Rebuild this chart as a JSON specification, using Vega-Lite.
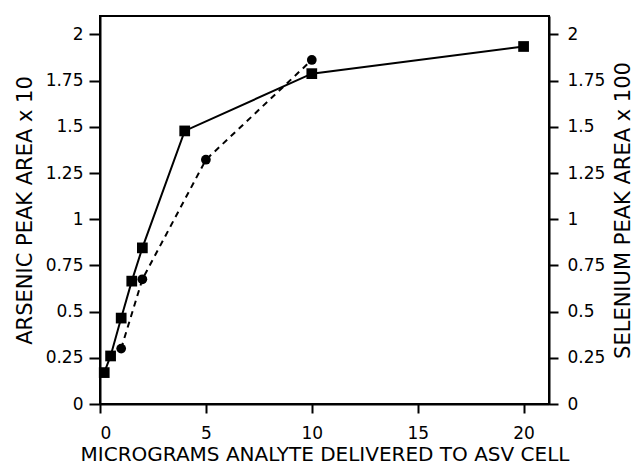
{
  "$schema": "https://vega.github.io/schema/vega-lite/v6.json",
  "width": 449,
  "height": 388,
  "autosize": "none",
  "padding": {"left": 100, "top": 16, "right": 85, "bottom": 64},
  "background": "white",
  "config": {
    "view": {"stroke": "black", "strokeWidth": 2},
    "axis": {
      "labelFont": "DejaVu Sans",
      "titleFont": "DejaVu Sans",
      "labelFontSize": 17,
      "titleFontSize": 21,
      "titleFontWeight": "normal",
      "labelColor": "black",
      "titleColor": "black",
      "domainColor": "black",
      "tickColor": "black",
      "domainWidth": 2,
      "tickWidth": 2,
      "tickSize": 10,
      "grid": false
    }
  },
  "data": {
    "values": [
      {"series": "As", "ug": 0.2, "area": 0.17},
      {"series": "As", "ug": 0.5, "area": 0.26},
      {"series": "As", "ug": 1.0, "area": 0.465},
      {"series": "As", "ug": 1.5, "area": 0.665},
      {"series": "As", "ug": 2.0, "area": 0.845},
      {"series": "As", "ug": 4.0, "area": 1.478},
      {"series": "As", "ug": 10.0, "area": 1.788},
      {"series": "As", "ug": 20.0, "area": 1.935},
      {"series": "Se", "ug": 1.0, "area": 0.30},
      {"series": "Se", "ug": 2.0, "area": 0.675},
      {"series": "Se", "ug": 5.0, "area": 1.322},
      {"series": "Se", "ug": 10.0, "area": 1.862}
    ]
  },
  "layer": [
    {
      "transform": [{"filter": "datum.series === 'As'"}],
      "encoding": {
        "x": {
          "field": "ug", "type": "quantitative",
          "scale": {"domain": [0, 21.2], "nice": false, "zero": false},
          "axis": {"values": [0, 5, 10, 15, 20], "title": "MICROGRAMS ANALYTE DELIVERED TO ASV CELL", "titleFontSize": 20, "titlePadding": 3, "labelPadding": 12, "tickSize": 9}
        },
        "y": {
          "field": "area", "type": "quantitative",
          "scale": {"domain": [0, 2.1], "nice": false},
          "axis": {"orient": "left", "values": [0, 0.25, 0.5, 0.75, 1, 1.25, 1.5, 1.75, 2], "labelExpr": "'' + datum.value", "title": "ARSENIC PEAK AREA x 10", "titlePadding": 10, "labelPadding": 6, "tickSize": 11}
        }
      },
      "layer": [
        {"mark": {"type": "line", "color": "black", "strokeWidth": 2}},
        {"mark": {"type": "point", "shape": "square", "filled": true, "color": "black", "size": 115, "opacity": 1}}
      ]
    },
    {
      "transform": [{"filter": "datum.series === 'Se'"}],
      "encoding": {
        "x": {"field": "ug", "type": "quantitative"},
        "y": {
          "field": "area", "type": "quantitative",
          "scale": {"domain": [0, 2.1], "nice": false},
          "axis": {"orient": "right", "values": [0, 0.25, 0.5, 0.75, 1, 1.25, 1.5, 1.75, 2], "labelExpr": "'' + datum.value", "title": "SELENIUM PEAK AREA x 100", "titleAngle": 270, "titleBaseline": "top", "titlePadding": 8, "labelPadding": 9, "tickSize": 9}
        }
      },
      "layer": [
        {"mark": {"type": "line", "color": "black", "strokeWidth": 2, "strokeDash": [6, 5]}},
        {"mark": {"type": "point", "shape": "circle", "filled": true, "color": "black", "size": 95, "opacity": 1}}
      ]
    }
  ],
  "resolve": {"scale": {"y": "independent"}}
}
